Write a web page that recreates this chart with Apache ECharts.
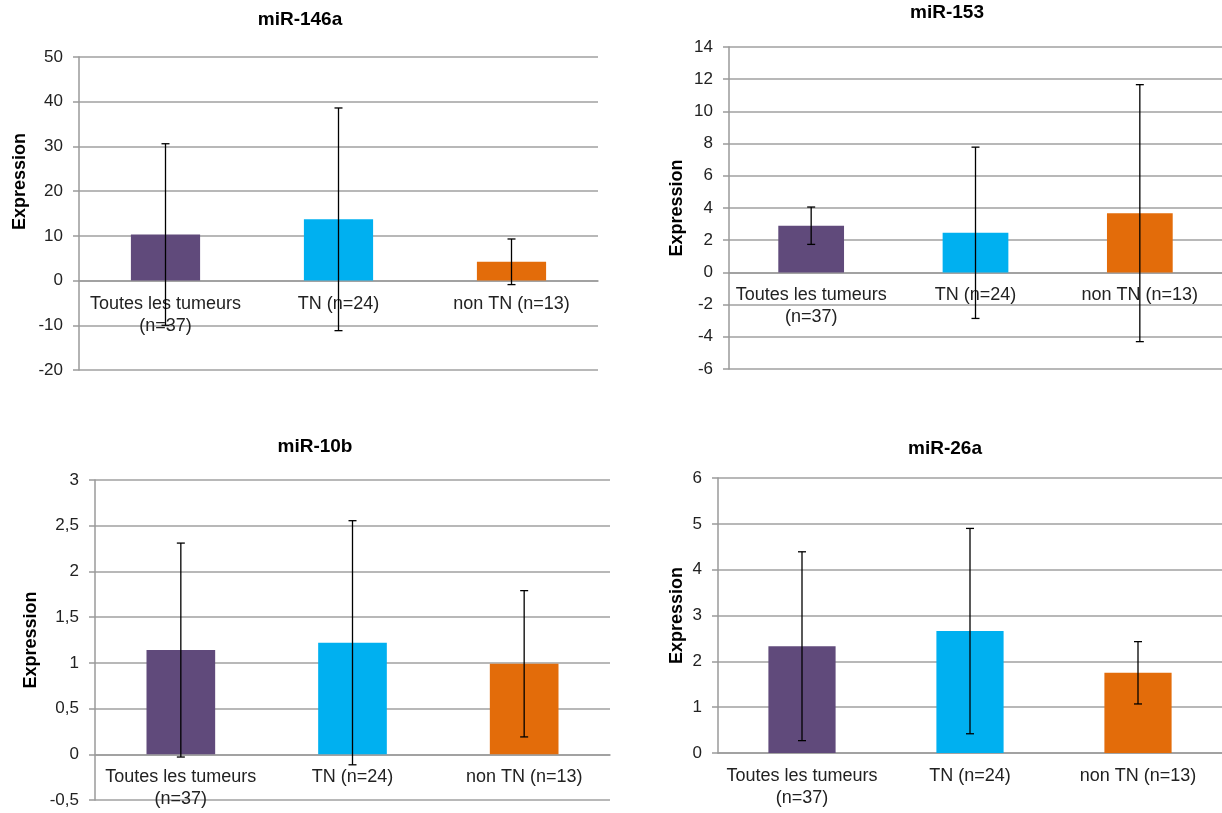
<!DOCTYPE html>
<html>
<head>
<meta charset="utf-8">
<script src="https://cdn.jsdelivr.net/npm/echarts@6/dist/echarts.min.js"></script>
<style>
html,body{margin:0;padding:0;background:#fff;}
#c{width:1222px;height:813px;}
</style>
</head>
<body>
<div id="c"></div>
<script>
// ---- data ----
const categories = ['Toutes les tumeurs\n(n=37)', 'TN (n=24)', 'non TN (n=13)'];
const titles = ['miR-146a', 'miR-153', 'miR-10b', 'miR-26a'];
const means146a = [10.3, 13.7, 4.2];
const errs146a = [20.3, 24.9, 5.1];
const means153 = [2.9, 2.46, 3.68];
const errs153 = [1.16, 5.32, 7.98];
const means10b = [1.14, 1.22, 0.99];
const errs10b = [1.17, 1.335, 0.80];
const means26a = [2.33, 2.66, 1.75];
const errs26a = [2.06, 2.24, 0.68];
const yMin = [-20, -6, -0.5, 0];
const yMax = [50, 14, 3, 6];
const yStep = [10, 2, 0.5, 1];
const barColors = ['#604A7B', '#00B0F0', '#E36C0A'];

const meansAll = [means146a, means153, means10b, means26a];
const errsAll = [errs146a, errs153, errs10b, errs26a];

// layout (pixels)
const grids = [
  {left: 79, top: 57, width: 519, height: 313},
  {left: 729, top: 47, width: 493, height: 322},
  {left: 95, top: 480, width: 515, height: 320},
  {left: 718, top: 478, width: 504, height: 275}
];
const titlePos = [
  {x: 295, y: 5}, {x: 942, y: -2}, {x: 310, y: 432}, {x: 940, y: 434}
];
const namePad = [[0,0,0,64],[0,0,0,0],[0,0,0,0],[0,0,0,0]];
const nameGaps = [50, 43, 55, 32];

const font = 'Liberation Sans, Arial, sans-serif';
const chart = echarts.init(document.getElementById('c'), null, {renderer: 'canvas'});

// x axis sits on the zero line: offset from grid bottom to the value 0
function zeroOffset(i) {
  return -grids[i].height * (0 - yMin[i]) / (yMax[i] - yMin[i]);
}

const option = {
  animation: false,
  backgroundColor: '#fff',
  title: titles.map((t, i) => ({
    text: t, left: titlePos[i].x, top: titlePos[i].y, textAlign: 'center',
    textStyle: {fontFamily: font, fontSize: 19, fontWeight: 'bold', color: '#000'}
  })),
  grid: grids,
  xAxis: grids.map((g, i) => ({
    type: 'category', gridIndex: i, data: categories,
    offset: zeroOffset(i),
    axisLine: {onZero: false, lineStyle: {color: '#9a9a9a', width: 1.5}},
    axisTick: {show: false},
    axisLabel: {fontFamily: font, fontSize: 18, color: '#222', margin: 12, lineHeight: 22, interval: 0},
    splitLine: {show: false}
  })),
  yAxis: grids.map((g, i) => ({
    type: 'value', gridIndex: i, min: yMin[i], max: yMax[i], interval: yStep[i],
    name: 'Expression', nameLocation: 'middle', nameGap: nameGaps[i], nameRotate: 90,
    nameTextStyle: {fontFamily: font, fontSize: 18, fontWeight: 'bold', color: '#000', padding: namePad[i]},
    axisLine: {show: true, lineStyle: {color: '#9a9a9a', width: 1.5}},
    axisTick: {show: true, length: 6, lineStyle: {color: '#9a9a9a', width: 1.5}},
    axisLabel: {fontFamily: font, fontSize: 17, color: '#222', margin: 16,
      formatter: v => String(v).replace('.', ',')},
    splitLine: {show: true, lineStyle: {color: '#a0a0a0', width: 1.5}}
  })),
  series: []
};

meansAll.forEach((means, i) => {
  option.series.push({
    type: 'bar', xAxisIndex: i, yAxisIndex: i, barWidth: '40%',
    data: means.map((v, k) => ({value: v, itemStyle: {color: barColors[k]}}))
  });
  option.series.push({
    type: 'custom', xAxisIndex: i, yAxisIndex: i, z: 10,
    data: means.map((v, k) => [k, v + errsAll[i][k], v - errsAll[i][k]]),
    renderItem: function (params, api) {
      const hi = api.coord([api.value(0), api.value(1)]);
      const lo = api.coord([api.value(0), api.value(2)]);
      const cap = 4;
      const st = {stroke: '#000', lineWidth: 1.3};
      return {type: 'group', children: [
        {type: 'line', shape: {x1: hi[0], y1: hi[1], x2: lo[0], y2: lo[1]}, style: st},
        {type: 'line', shape: {x1: hi[0] - cap, y1: hi[1], x2: hi[0] + cap, y2: hi[1]}, style: st},
        {type: 'line', shape: {x1: lo[0] - cap, y1: lo[1], x2: lo[0] + cap, y2: lo[1]}, style: st}
      ]};
    }
  });
});

chart.setOption(option);
</script>
</body>
</html>
